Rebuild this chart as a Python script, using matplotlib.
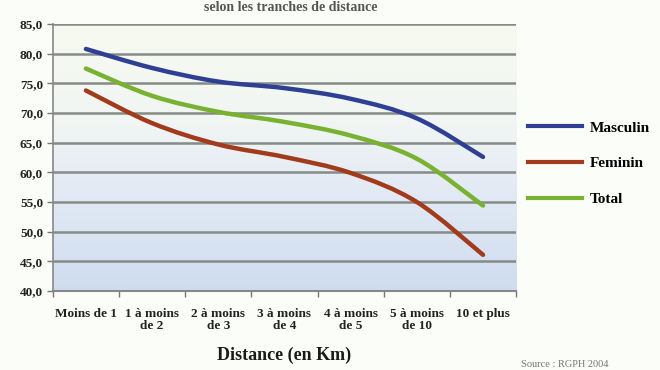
import numpy as np
import matplotlib
matplotlib.use("Agg")
import matplotlib.pyplot as plt
from matplotlib.path import Path
from matplotlib.patches import PathPatch
from matplotlib.lines import Line2D

categories = ["Moins de 1", "1 à moins\nde 2", "2 à moins\nde 3", "3 à moins\nde 4",
              "4 à moins\nde 5", "5 à moins\nde 10", "10 et plus"]
masculin = [80.8, 77.6, 75.3, 74.2, 72.4, 69.1, 62.6]
feminin = [73.8, 68.3, 64.7, 62.6, 59.9, 55.0, 46.1]
total = [77.5, 72.9, 70.2, 68.5, 66.2, 62.3, 54.4]
series = [("Masculin", masculin, "#2f3f93"),
          ("Feminin", feminin, "#a23a1c"),
          ("Total", total, "#79b131")]
yticks = np.arange(40, 86, 5)

serif = ["Liberation Serif", "DejaVu Serif"]

fig = plt.figure(figsize=(6.6, 3.7), dpi=100)
fig.patch.set_facecolor("#fbfdf8")
ax = fig.add_axes([0.080, 0.2135, 0.702, 0.7215])

x = np.arange(len(categories)) + 0.5
ax.set_xlim(0, len(categories))
ax.set_ylim(40, 85)

# vertical gradient background of the plot area
grad = np.linspace(0, 1, 256).reshape(-1, 1)
cmap = matplotlib.colors.LinearSegmentedColormap.from_list(
    "bg", [(0.0, "#cfdcef"), (0.4, "#e4ebf5"), (0.65, "#f2f6f3"), (1.0, "#f6faef")])
ax.imshow(grad, aspect="auto", cmap=cmap, origin="lower",
          extent=[0, len(categories), 40, 85], zorder=0)

for yv in yticks:
    ax.axhline(yv, color="#868b87", lw=1.8, zorder=1)


def smooth_path(xs, ys, t=1 / 6):
    """Cubic Bezier path through the points (Catmull-Rom style smoothing)."""
    pts = np.column_stack([np.asarray(xs, float), np.asarray(ys, float)])
    verts = [pts[0]]
    codes = [Path.MOVETO]
    n = len(pts)
    for i in range(n - 1):
        p0 = pts[i - 1] if i > 0 else pts[i]
        p1 = pts[i]
        p2 = pts[i + 1]
        p3 = pts[i + 2] if i + 2 < n else pts[i + 1]
        verts += [p1 + (p2 - p0) * t, p2 - (p3 - p1) * t, p2]
        codes += [Path.CURVE4] * 3
    return Path(verts, codes)


for name, vals, col in series:
    patch = PathPatch(smooth_path(x, vals), facecolor="none", edgecolor=col,
                      lw=3.2, capstyle="round", joinstyle="round", zorder=3)
    ax.add_patch(patch)

ax.set_yticks(yticks)
ax.set_yticklabels([f"{v:.1f}".replace(".", ",") for v in yticks],
                   fontfamily=serif, fontweight="bold", fontsize=9.5, color="#222222")
ax.set_xticks(x)
ax.set_xticklabels(categories, fontfamily=serif, fontweight="bold", fontsize=9.5,
                   color="#222222", linespacing=1.0)
ax.set_xticks(np.arange(0, len(categories) + 1), minor=True)
ax.tick_params(axis="x", which="major", length=0, pad=12)
ax.tick_params(axis="x", which="minor", length=4, color="#777777", width=1)
ax.tick_params(axis="y", length=4, color="#777777", width=1, pad=3)
for side in ["top", "right"]:
    ax.spines[side].set_visible(False)
ax.spines["left"].set_color("#888888")
ax.spines["bottom"].set_color("#888888")
ax.spines["left"].set_linewidth(1.2)
ax.spines["bottom"].set_linewidth(1.5)

handles = [Line2D([0], [0], color=c, lw=3) for _, _, c in series]
fig.legend(handles, [s[0] for s in series], loc="upper left",
           bbox_to_anchor=(0.789, 0.694), frameon=False, borderpad=0,
           prop={"family": serif, "weight": "bold", "size": 11},
           handlelength=3.5, labelspacing=1.45, handletextpad=0.5)

fig.text(0.43, 0.040, "Distance (en Km)", ha="center", va="center",
         fontfamily=serif, fontweight="bold", fontsize=13, color="#1a1a1a")
fig.text(0.44, 0.998, "selon les tranches de distance", ha="center", va="top",
         fontfamily=serif, fontweight="bold", fontsize=10, color="#555555")
fig.text(0.79, 0.004, "Source : RGPH 2004", ha="left", va="bottom",
         fontfamily=serif, fontsize=7.5, color="#777777")

fig.savefig("out.png", dpi=100, facecolor=fig.get_facecolor())
